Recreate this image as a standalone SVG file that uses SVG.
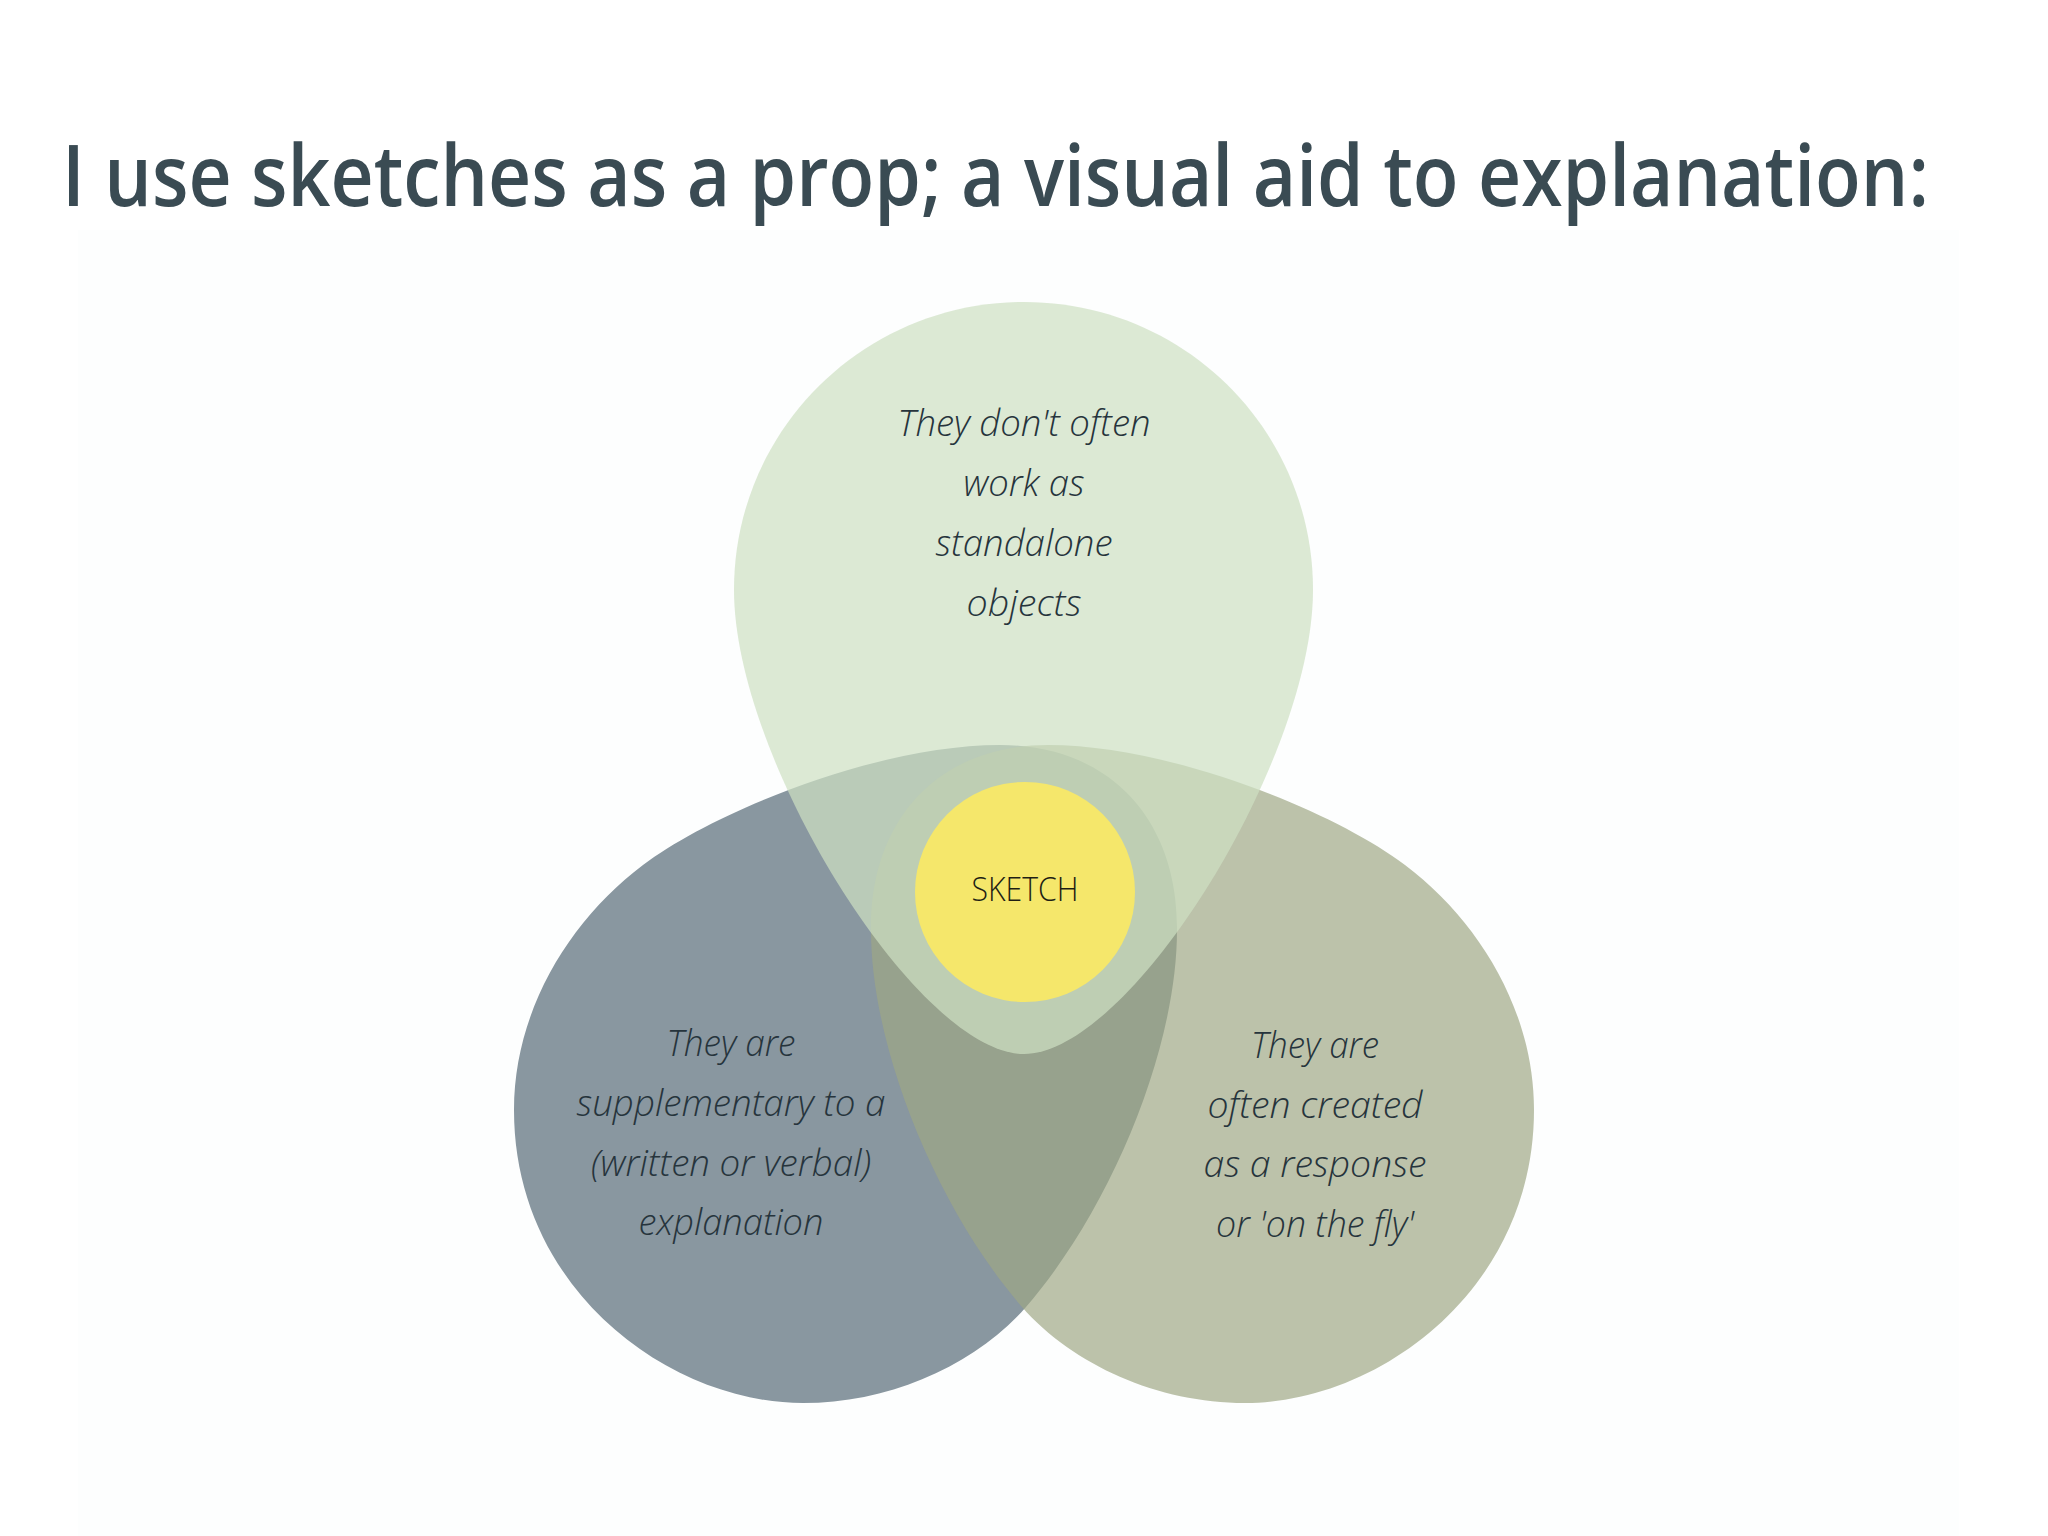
<svg xmlns="http://www.w3.org/2000/svg" width="2048" height="1536" viewBox="0 0 2048 1536">
  <defs>
    <style>
      .title { font-family: "Open Sans", "Liberation Sans", sans-serif; font-weight: 600; font-size: 85px; fill: #3a4b53; }
      .body { font-family: "Open Sans", "Lato", "Liberation Sans", sans-serif; font-weight: 300; font-style: italic; font-size: 36px; fill: #26343c; text-anchor: middle; }
      .label { font-family: "Open Sans", "Liberation Sans", sans-serif; font-weight: 300; font-size: 33px; fill: #1e1e14; text-anchor: middle; }
    </style>
    <path id="blob" d="M 1000 745 C 1110 745 1178 820 1177 930 C 1177 1050 1110 1210 1026 1307 C 975 1365 890 1403 803 1403 C 670 1403 514 1290 514 1110 C 514 1010 570 920 643 865 C 716 810 880 745 1000 745 Z"/>
  </defs>
  <rect x="0" y="0" width="2048" height="1536" fill="#ffffff"/>
  <rect x="78" y="230" width="1881" height="1306" fill="#fdfefe"/>

  <g id="title">
    <text class="title" x="62" y="206" textLength="1867" lengthAdjust="spacingAndGlyphs">I use sketches as a prop; a visual aid to explanation:</text>
  </g>

  <g id="node-left">
    <use href="#blob" fill="#8997a0"/>
    <text class="body" x="731" y="1056" textLength="129" lengthAdjust="spacingAndGlyphs">They are</text>
    <text class="body" x="731" y="1116" textLength="309" lengthAdjust="spacingAndGlyphs">supplementary to a</text>
    <text class="body" x="731" y="1176" textLength="280" lengthAdjust="spacingAndGlyphs">(written or verbal)</text>
    <text class="body" x="731" y="1235" textLength="185" lengthAdjust="spacingAndGlyphs">explanation</text>
  </g>

  <g id="node-right">
    <use href="#blob" transform="translate(2048,0) scale(-1,1)" fill="#9ea784" fill-opacity="0.69"/>
    <text class="body" x="1315" y="1058" textLength="128" lengthAdjust="spacingAndGlyphs">They are</text>
    <text class="body" x="1315" y="1118" textLength="215" lengthAdjust="spacingAndGlyphs">often created</text>
    <text class="body" x="1315" y="1177" textLength="223" lengthAdjust="spacingAndGlyphs">as a response</text>
    <text class="body" x="1315" y="1237" textLength="198" lengthAdjust="spacingAndGlyphs">or 'on the fly'</text>
  </g>

  <g id="node-top">
    <path d="M 1024 302 C 1184 302 1313 430 1313 590 C 1313 760 1130 1054 1024 1054 C 918 1054 734 760 734 590 C 734 430 864 302 1024 302 Z" fill="#cee0c2" fill-opacity="0.71"/>
    <text class="body" x="1024" y="436" textLength="253" lengthAdjust="spacingAndGlyphs">They don't often</text>
    <text class="body" x="1024" y="496" textLength="121" lengthAdjust="spacingAndGlyphs">work as</text>
    <text class="body" x="1024" y="556" textLength="177" lengthAdjust="spacingAndGlyphs">standalone</text>
    <text class="body" x="1024" y="616" textLength="115" lengthAdjust="spacingAndGlyphs">objects</text>
  </g>

  <g id="node-sketch">
    <circle cx="1025" cy="892" r="110" fill="#f5e76b"/>
    <text class="label" x="1025" y="901" textLength="107" lengthAdjust="spacingAndGlyphs">SKETCH</text>
  </g>

  <g id="connectors"/>
</svg>
